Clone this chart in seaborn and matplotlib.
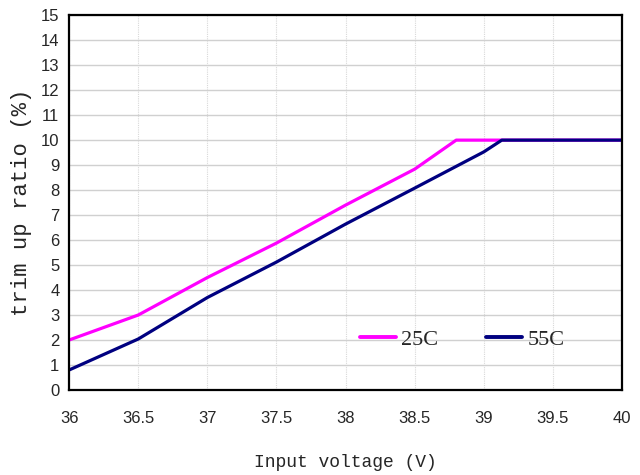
import pandas as pd
import numpy as np
import matplotlib
matplotlib.use('Agg')
import matplotlib.pyplot as plt
import seaborn as sns

# curve readings
v_25 = [36.0, 36.5, 37.0, 37.5, 38.0, 38.5, 38.8, 39.13, 40.0]
trim_25 = [2.0, 3.0, 4.5, 5.88, 7.4, 8.84, 10.0, 10.0, 10.0]
v_55 = [36.0, 36.5, 37.0, 37.5, 38.0, 38.5, 39.0, 39.13, 40.0]
trim_55 = [0.8, 2.04, 3.7, 5.12, 6.64, 8.08, 9.53, 10.0, 10.0]

x_ticks = [36, 36.5, 37, 37.5, 38, 38.5, 39, 39.5, 40]
y_ticks = list(range(0, 16))

df = pd.concat([
    pd.DataFrame({'voltage': v_25, 'ratio': trim_25, 'temp': '25C'}),
    pd.DataFrame({'voltage': v_55, 'ratio': trim_55, 'temp': '55C'}),
])

sns.set_style('white')
plt.rcParams['font.family'] = ['Liberation Sans', 'DejaVu Sans']

fig = plt.figure(figsize=(6.4, 4.75), dpi=100)
ax = fig.add_axes([0.108, 0.179, 0.864, 0.789])

sns.lineplot(data=df, x='voltage', y='ratio', hue='temp',
             palette={'25C': '#ff00ff', '55C': '#000080'},
             linewidth=2.3, ax=ax, sort=False)

ax.set_xlim(36, 40)
ax.set_ylim(0, 15)
ax.set_xticks(x_ticks)
ax.set_xticklabels([f'{t:g}' for t in x_ticks])
ax.set_yticks(y_ticks)
ax.grid(True, axis='y', color='#d0d0d0', linewidth=1)
ax.grid(True, axis='x', color='#d8d8d8', linewidth=0.8, linestyle=(0, (1, 1)))
ax.tick_params(direction='in', length=4, width=1.2, labelsize=12)
ax.tick_params(axis='x', pad=15)
ax.tick_params(axis='y', pad=7)
for s in ax.spines.values():
    s.set_linewidth(1.6)
    s.set_color('black')

ax.set_xlabel('Input voltage (V)', family='Liberation Mono', fontsize=13, labelpad=20)
ax.set_ylabel('trim up ratio (%)', family='Liberation Mono', fontsize=16, labelpad=6)

leg = ax.legend(loc='center left', bbox_to_anchor=(0.49, 0.135), ncol=2, frameon=False,
                handlelength=1.6, handletextpad=0.25, columnspacing=2.15,
                prop={'family': 'Liberation Serif', 'size': 16})
for line in leg.get_lines():
    line.set_linewidth(2.8)

fig.savefig('out.png', dpi=100)
